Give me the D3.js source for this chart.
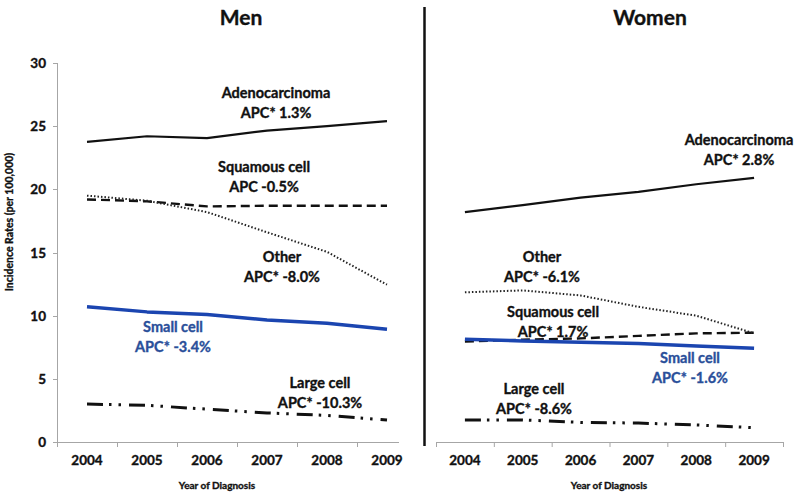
<!DOCTYPE html>
<html><head><meta charset="utf-8">
<script src="https://cdn.jsdelivr.net/npm/d3@7"></script>
<style>
html,body{margin:0;padding:0;background:#fff;}
text{font-family:Lato,"Open Sans",sans-serif;font-weight:bold;stroke-width:0.35px;}
</style></head>
<body>
<svg id="chart" width="800" height="499"></svg>
<script>
const years = ["2004","2005","2006","2007","2008","2009"];
const yTicks = [0,5,10,15,20,25,30];

// Men
const menAdeno    = [23.75, 24.2, 24.05, 24.65, 25.0, 25.4];
const menSquamous = [19.2, 19.05, 18.65, 18.7, 18.7, 18.7];
const menOther    = [19.5, 19.1, 18.2, 16.6, 15.05, 12.45];
const menSmall    = [10.7, 10.3, 10.1, 9.65, 9.4, 8.92];
const menLarge    = [3.0, 2.9, 2.6, 2.3, 2.1, 1.74];

// Women
const womenAdeno    = [18.2, 18.75, 19.35, 19.8, 20.4, 20.9];
const womenOther    = [11.85, 12.0, 11.6, 10.7, 10.0, 8.6];
const womenSquamous = [7.95, 8.1, 8.2, 8.4, 8.6, 8.65];
const womenSmall    = [8.13, 8.0, 7.9, 7.8, 7.6, 7.42];
const womenLarge    = [1.74, 1.75, 1.55, 1.5, 1.35, 1.13];

const menLabels = [
  {lines:["Adenocarcinoma","APC* 1.3%"], blue:false},
  {lines:["Squamous cell","APC -0.5%"], blue:false},
  {lines:["Other","APC* -8.0%"], blue:false},
  {lines:["Small cell","APC* -3.4%"], blue:true},
  {lines:["Large cell","APC* -10.3%"], blue:false}
];
const womenLabels = [
  {lines:["Adenocarcinoma","APC* 2.8%"], blue:false},
  {lines:["Squamous cell","APC* 1.7%"], blue:false},
  {lines:["Other","APC* -6.1%"], blue:false},
  {lines:["Small cell","APC* -1.6%"], blue:true},
  {lines:["Large cell","APC* -8.6%"], blue:false}
];

const svg = d3.select("#chart");
const y = d3.scaleLinear().domain([0,30]).range([442,63]);

const styles = {
  adeno:    {stroke:"#111", width:2.2, dash:null},
  squamous: {stroke:"#111", width:2.4, dash:"9,5"},
  other:    {stroke:"#222", width:2, dash:"1.5,2"},
  small:    {stroke:"#1b45b0", width:3.5, dash:null},
  large:    {stroke:"#111", width:3, dash:"16,6,2.5,7,2.5,8"}
};

function txt(sel, color){
  return sel.attr("fill",color).attr("stroke",color);
}

function panel(cfg){
  const x = d3.scaleBand().domain(years).range(cfg.xr).padding(0);
  const g = svg.append("g");
  // x axis
  g.append("line").attr("x1",cfg.xr[0]).attr("x2",cfg.axisEnd).attr("y1",442.5).attr("y2",442.5)
    .attr("stroke","#a6a6a6").attr("stroke-width",1);
  const bounds = years.map(d=>x(d)).concat([x(years[5])+x.bandwidth()]).filter(v=>v<=cfg.axisEnd+1);
  g.selectAll(".xt").data(bounds).join("line")
    .attr("x1",d=>d+0.5).attr("x2",d=>d+0.5).attr("y1",442).attr("y2",447)
    .attr("stroke","#a6a6a6");
  txt(g.selectAll(".xl").data(years).join("text")
    .attr("x",d=>x(d)+x.bandwidth()/2).attr("y",465)
    .attr("text-anchor","middle").attr("font-size",13.5).text(d=>d), "#111");
  txt(g.append("text").attr("x",cfg.xLabelX).attr("y",489).attr("text-anchor","middle")
    .attr("font-size",10).text("Year of Diagnosis"), "#111");
  // title
  txt(g.append("text").attr("x",cfg.titleX).attr("y",25).attr("text-anchor","middle")
    .attr("font-size",21).text(cfg.title), "#111");

  const line = d3.line().x((d,i)=>x(years[i])+x.bandwidth()/2).y(d=>y(d));
  const series = [
    [cfg.data.adeno, styles.adeno],
    [cfg.data.squamous, styles.squamous],
    [cfg.data.other, styles.other],
    [cfg.data.large, styles.large],
    [cfg.data.small, styles.small]
  ];
  series.forEach(([vals,st])=>{
    g.append("path").attr("d",line(vals)).attr("fill","none")
      .attr("stroke",st.stroke).attr("stroke-width",st.width)
      .attr("stroke-dasharray",st.dash).attr("stroke-linejoin","round");
  });
  cfg.labels.forEach((lab,i)=>{
    const p = cfg.labelPos[i];
    lab.lines.forEach((t,j)=>{
      txt(g.append("text").attr("x",p[0]).attr("y",p[1]+j*19.5).attr("text-anchor","middle")
        .attr("font-size",14.5).text(t), lab.blue?"#2a4f9a":"#111");
    });
  });
}

// y axis (left panel only)
const ya = svg.append("g");
ya.append("line").attr("x1",57.5).attr("x2",57.5).attr("y1",63).attr("y2",442.5)
  .attr("stroke","#a6a6a6");
ya.selectAll(".yt").data(yTicks).join("line")
  .attr("x1",53).attr("x2",57.5).attr("y1",d=>Math.round(y(d))+0.5).attr("y2",d=>Math.round(y(d))+0.5)
  .attr("stroke","#a6a6a6");
txt(ya.selectAll(".yl").data(yTicks).join("text")
  .attr("x",46).attr("y",d=>y(d)+5).attr("text-anchor","end")
  .attr("font-size",13.5).text(d=>d), "#111");
txt(ya.append("text").attr("transform","translate(13,222) rotate(-90)").attr("text-anchor","middle")
  .attr("font-size",10.5).text("Incidence Rates (per 100,000)"), "#111");

panel({
  title:"Men", titleX:241, xr:[57,417], axisEnd:399, xLabelX:217,
  data:{adeno:menAdeno, squamous:menSquamous, other:menOther, small:menSmall, large:menLarge},
  labels:menLabels,
  labelPos:[[276,98],[264,172],[282,262],[173,332],[320,388]]
});
panel({
  title:"Women", titleX:650, xr:[436,783], axisEnd:783, xLabelX:609,
  data:{adeno:womenAdeno, squamous:womenSquamous, other:womenOther, small:womenSmall, large:womenLarge},
  labels:womenLabels,
  labelPos:[[739,145],[553,317],[542,262],[690,363],[534,394]]
});

// divider
svg.append("line").attr("x1",424.5).attr("x2",424.5).attr("y1",7).attr("y2",446)
  .attr("stroke","#111").attr("stroke-width",2.5);
</script>
</body></html>
